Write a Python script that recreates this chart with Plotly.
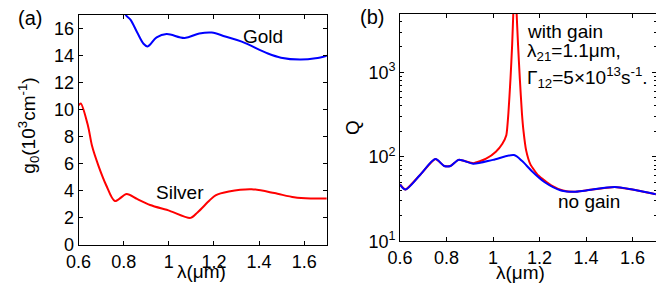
import plotly.graph_objects as go

# page body has an 8px margin; the figure is sized to fit in the 664x302 window
OFF = 8
W, H = 664 - OFF, 302 - OFF

# ---- Panel (a): gain threshold g0 (10^3 cm^-1) vs wavelength (um)
gold_lam = [0.79, 0.809, 0.83, 0.86, 0.888, 0.906, 0.946, 0.99, 1.07, 1.135, 1.19, 1.25,
            1.323, 1.439, 1.497, 1.581, 1.65, 1.70]
gold_g0 = [18.3, 17.0, 16.64, 15.69, 14.86, 14.66, 15.33, 15.57, 15.29, 15.62, 15.69, 15.4,
           15.02, 14.14, 13.83, 13.69, 13.78, 13.98]

silver_lam = [0.60, 0.61, 0.642, 0.66, 0.688, 0.722, 0.761, 0.813, 0.859, 0.917, 1.004,
              1.096, 1.127, 1.18, 1.207, 1.266, 1.367, 1.468, 1.555, 1.628, 1.70]
silver_g0 = [10.3, 10.45, 8.79, 7.3, 5.86, 4.43, 3.24, 3.76, 3.4, 2.95, 2.52,
             2.0, 2.4, 3.28, 3.67, 3.95, 4.12, 3.83, 3.52, 3.43, 3.43]

# ---- Panel (b): quality factor Q vs wavelength (um)
nogain_lam = [0.60, 0.623, 0.686, 0.752, 0.79, 0.817, 0.852, 0.915, 0.999, 1.09, 1.125,
              1.166, 1.222, 1.292, 1.348, 1.40, 1.523, 1.60, 1.70]
nogain_Q = [47, 41, 61, 94, 78, 78, 92, 83, 92, 105, 89,
            68, 50, 40, 38.6, 40, 44, 41, 36]

gain_lam = [0.60, 0.623, 0.686, 0.752, 0.79, 0.817, 0.852, 0.915, 0.97, 1.012, 1.04,
            1.057, 1.066, 1.075, 1.082, 1.088, 1.094, 1.100, 1.1075, 1.115, 1.124,
            1.131, 1.142, 1.16, 1.195, 1.25, 1.30, 1.348, 1.40, 1.523, 1.60, 1.70]
gain_Q = [47, 41, 61, 94, 78, 78, 92, 84, 95, 115, 143,
          180, 330, 850, 2100, 6000, 20000, 6000, 2100, 850, 330,
          200, 120, 82, 60, 46, 40, 38.6, 40, 44, 41, 36]

lam_ticks = [0.6, 0.8, 1.0, 1.2, 1.4, 1.6]
lam_ticktext = ["0.6", "0.8", "1", "1.2", "1.4", "1.6"]
g0_ticks = [0, 2, 4, 6, 8, 10, 12, 14, 16]
q_ticks = [10, 100, 1000]
q_ticktext = ["10<sup>1</sup>", "10<sup>2</sup>", "10<sup>3</sup>"]

RED = "#ff0000"
BLUE = "#0000ff"
FONT = "Liberation Sans, Arial, sans-serif"
FS = 18


def fx(x):
    return (x - OFF) / W


def fy(y):
    return 1 - (y - OFF) / H


fig = go.Figure()
fig.add_trace(go.Scatter(x=gold_lam, y=gold_g0, mode="lines",
                         line=dict(color=BLUE, width=2, shape="spline", smoothing=1.0),
                         xaxis="x", yaxis="y", showlegend=False))
fig.add_trace(go.Scatter(x=silver_lam, y=silver_g0, mode="lines",
                         line=dict(color=RED, width=2, shape="spline", smoothing=0.8),
                         xaxis="x", yaxis="y", showlegend=False))
fig.add_trace(go.Scatter(x=gain_lam, y=gain_Q, mode="lines",
                         line=dict(color=RED, width=2, shape="spline", smoothing=0.5),
                         xaxis="x2", yaxis="y2", showlegend=False))
fig.add_trace(go.Scatter(x=nogain_lam, y=nogain_Q, mode="lines",
                         line=dict(color=BLUE, width=2, shape="spline", smoothing=0.8),
                         xaxis="x2", yaxis="y2", showlegend=False))

axis_common = dict(showline=True, linecolor="black", linewidth=1, mirror="ticks",
                   ticks="inside", ticklen=4, tickcolor="black", tickwidth=1,
                   showgrid=False, zeroline=False,
                   tickfont=dict(family=FONT, size=FS, color="black"))

fig.update_layout(
    width=W, height=H,
    margin=dict(l=0, r=0, t=0, b=0),
    paper_bgcolor="white", plot_bgcolor="white",
    font=dict(family=FONT, size=FS, color="black"),
    xaxis=dict(domain=[fx(66.7), fx(320)], range=[0.6, 1.7], anchor="y",
               tickvals=lam_ticks, ticktext=lam_ticktext, **axis_common),
    yaxis=dict(domain=[fy(253.3), fy(15)], range=[0, 17], anchor="x",
               tickvals=g0_ticks, **axis_common),
    xaxis2=dict(domain=[fx(394.7), fx(655.7)], range=[0.6, 1.7], anchor="y2",
                tickvals=lam_ticks, ticktext=lam_ticktext, **axis_common),
    yaxis2=dict(domain=[fy(249.5), fy(14.3)], type="log", range=[1, 3.69], anchor="x2",
                tickvals=q_ticks, ticktext=q_ticktext,
                minor=dict(ticks="inside", ticklen=2, tickcolor="black",
                           tickvals=[20, 30, 40, 50, 60, 70, 80, 90,
                                     200, 300, 400, 500, 600, 700, 800, 900,
                                     2000, 3000, 4000]),
                **axis_common),
)

annots = [
    ("(a)", 17, 18, "center", 0, 20),
    ("(b)", 366, 17, "center", 0, 20),
    ("Gold", 255, 37, "center", 0, 19),
    ("Silver", 170, 199, "center", 0, 19),
    ("no gain", 587, 208, "center", 0, 19),
    ("with gain", 522, 32, "left", 0, 19),
    ("λ<sub>21</sub>=1.1μm,", 522, 54, "left", 0, 19),
    ("Γ<sub>12</sub>=5×10<sup>13</sup>s<sup>-1</sup>.", 522, 80, "left", 0, 19),
    ("λ(μm)", 192, 281, "center", 0, 19),
    ("λ(μm)", 518, 282, "center", 0, 19),
    ("g<sub>0</sub>(10<sup>3</sup>cm<sup>-1</sup>)", 16, 130, "center", -90, 19),
    ("Q", 346, 132, "center", -90, 19),
]
for text, x, y, xa, ang, size in annots:
    fig.add_annotation(text=text, x=fx(x), y=fy(y), xref="paper", yref="paper",
                       xanchor=xa, yanchor="middle", showarrow=False,
                       textangle=ang, font=dict(family=FONT, size=size, color="black"))

fig.write_html("out.html")
